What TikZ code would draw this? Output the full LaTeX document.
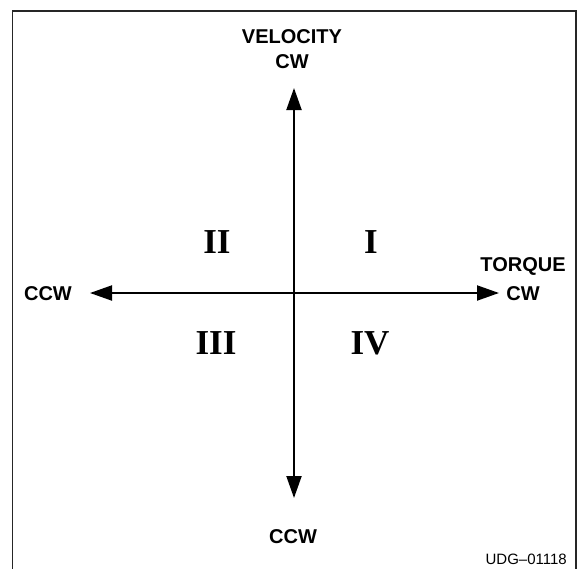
\documentclass[tikz,border=0pt]{standalone}
\usepackage{fontspec}
\setmainfont{Liberation Serif}
\setsansfont{Liberation Sans}
\usetikzlibrary{arrows.meta}
\begin{document}
\begin{tikzpicture}[x=1pt,y=-1pt,
  axis/.style={line width=2pt,{Triangle[length=22pt,width=15pt]}-{Triangle[length=22pt,width=15pt]}},
  lbl/.style={font=\sffamily\bfseries\fontsize{20}{24}\selectfont,inner sep=0pt},
  quad/.style={font=\rmfamily\bfseries\fontsize{35}{40}\selectfont,inner sep=0pt},
  frame/.style={line width=1.6pt,draw=black!85}]
\useasboundingbox (0,0) rectangle (577,568);
\draw[frame] (12.5,575) -- (12.5,11) -- (576,11) -- (576,575);
\coordinate (top) at (294,88);
\coordinate (bot) at (294,498);
\coordinate (lft) at (90,293);
\coordinate (rgt) at (499,293);
\draw[axis] (bot) -- (top);
\draw[axis] (lft) -- (rgt);
\node[lbl] (vel) at (292,37) {VELOCITY};
\node[lbl] (vcw) at (292,62) {CW};
\node[lbl] (tq) at (523,266) {TORQUE};
\node[lbl] (tcw) at (523,294) {CW};
\node[lbl] (lccw) at (48,294) {CCW};
\node[lbl] (bccw) at (293,537) {CCW};
\node[quad] (q1) at (371,242) {I};
\node[quad] (q2) at (217,242) {II};
\node[quad] (q3) at (216,343) {III};
\node[quad] (q4) at (370,343) {IV};
\node[font=\sffamily\fontsize{15}{18}\selectfont,inner sep=0pt,anchor=base east] (udg) at (567,564) {UDG--01118};
\end{tikzpicture}
\end{document}
